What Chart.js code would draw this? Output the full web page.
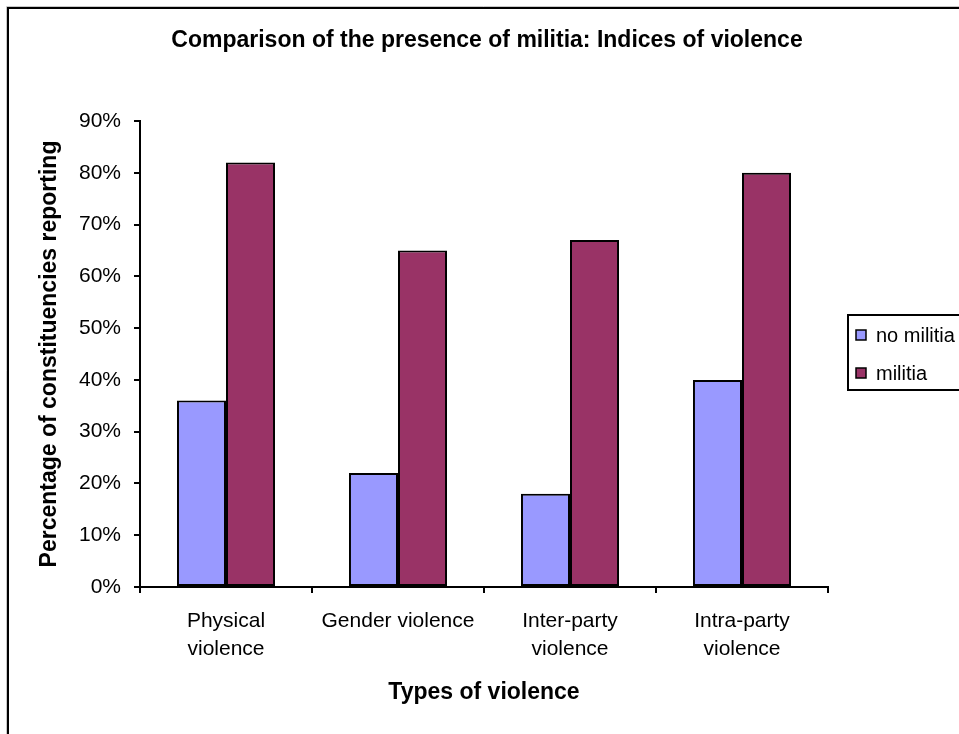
<!DOCTYPE html>
<html>
<head>
<meta charset="utf-8">
<title>Comparison of the presence of militia: Indices of violence</title>
<script src="https://cdn.jsdelivr.net/npm/chart.js@4/dist/chart.umd.min.js"></script>
<style>
  html, body { margin: 0; padding: 0; background: #fff; }
  canvas { display: block; }
</style>
</head>
<body>
<canvas id="chart" width="959" height="734"></canvas>
<script>
// Categories and series values (percentage of constituencies reporting)
const categories = [
  ['Physical', 'violence'],
  'Gender violence',
  ['Inter-party', 'violence'],
  ['Intra-party', 'violence']
];
const noMilitia = [36, 22, 18, 40];
const militia = [82, 65, 67, 80];
const seriesNames = ['no militia', 'militia'];
const yTicks = [0, 10, 20, 30, 40, 50, 60, 70, 80, 90];

const chartTitle = 'Comparison of the presence of militia: Indices of violence';
const xTitle = 'Types of violence';
const yTitle = 'Percentage of constituencies reporting';

const FONT = '"Liberation Sans", Arial, sans-serif';

// Outer frame, chart title and boxed legend drawn on the canvas
const decorations = {
  id: 'decorations',
  beforeDraw(chart) {
    const ctx = chart.ctx;
    ctx.save();
    ctx.fillStyle = '#fff';
    ctx.fillRect(0, 0, chart.width, chart.height);
    ctx.strokeStyle = '#c8c8c8';
    ctx.lineWidth = 1;
    ctx.beginPath();
    ctx.moveTo(6.5, chart.height + 5);
    ctx.lineTo(6.5, 6.5);
    ctx.lineTo(chart.width + 5, 6.5);
    ctx.stroke();
    ctx.strokeStyle = '#000';
    ctx.lineWidth = 2;
    ctx.beginPath();
    ctx.moveTo(8, chart.height + 5);
    ctx.lineTo(8, 8);
    ctx.lineTo(chart.width + 5, 8);
    ctx.stroke();
    ctx.restore();
  },
  afterDraw(chart) {
    const ctx = chart.ctx;
    ctx.save();
    // title
    ctx.fillStyle = '#000';
    ctx.font = 'bold 23px ' + FONT;
    ctx.textAlign = 'center';
    ctx.textBaseline = 'middle';
    ctx.fillText(chartTitle, 487, 41);

    // legend box
    ctx.strokeStyle = '#000';
    ctx.lineWidth = 2;
    ctx.strokeRect(848, 315, 140, 75);
    ctx.font = '20px ' + FONT;
    ctx.textAlign = 'left';
    const rows = [335, 373];
    chart.data.datasets.forEach((ds, i) => {
      const y = rows[i];
      ctx.fillStyle = ds.backgroundColor;
      ctx.fillRect(856, y - 5, 10, 10);
      ctx.lineWidth = 1.5;
      ctx.strokeRect(856, y - 5, 10, 10);
      ctx.fillStyle = '#000';
      ctx.fillText(ds.label, 876, y + 1);
    });
    ctx.restore();
  }
};

new Chart(document.getElementById('chart'), {
  type: 'bar',
  data: {
    labels: categories,
    datasets: [
      {
        label: seriesNames[0],
        data: noMilitia,
        backgroundColor: '#9999FF',
        borderColor: '#000',
        borderWidth: 2,
        borderSkipped: false,
        categoryPercentage: 0.57,
        barPercentage: 1.0
      },
      {
        label: seriesNames[1],
        data: militia,
        backgroundColor: '#993366',
        borderColor: '#000',
        borderWidth: 2,
        borderSkipped: false,
        categoryPercentage: 0.57,
        barPercentage: 1.0
      }
    ]
  },
  options: {
    responsive: false,
    devicePixelRatio: 1,
    animation: false,
    layout: { padding: { top: 121, right: 131, left: 0, bottom: 0 } },
    plugins: {
      legend: { display: false },
      title: { display: false },
      tooltip: { enabled: false }
    },
    scales: {
      x: {
        afterFit(scale) { scale.height = 147; },
        grid: {
          offset: true,
          drawOnChartArea: false,
          drawTicks: true,
          tickLength: 6,
          color: '#000',
          lineWidth: 2
        },
        border: { display: true, color: '#000', width: 2 },
        ticks: {
          color: '#000',
          font: { family: FONT, size: 21, lineHeight: 1.35 },
          padding: 14,
          maxRotation: 0,
          autoSkip: false
        },
        title: {
          display: true,
          text: xTitle,
          color: '#000',
          font: { family: FONT, size: 23, weight: 'bold', lineHeight: 1.2 },
          padding: { top: 0, bottom: 28 }
        }
      },
      y: {
        min: 0,
        max: 90,
        afterFit(scale) { scale.width = 140; },
        afterBuildTicks(scale) { scale.ticks = yTicks.map(v => ({ value: v })); },
        grid: {
          drawOnChartArea: false,
          drawTicks: true,
          tickLength: 6,
          color: '#000',
          lineWidth: 2
        },
        border: { display: true, color: '#000', width: 2 },
        ticks: {
          color: '#000',
          font: { family: FONT, size: 21 },
          padding: 13,
          callback: v => v + '%'
        },
        title: {
          display: true,
          text: yTitle,
          color: '#000',
          font: { family: FONT, size: 23, weight: 'bold', lineHeight: 1.2 },
          padding: { top: 36, bottom: 0 }
        }
      }
    }
  },
  plugins: [decorations]
});
</script>
</body>
</html>
